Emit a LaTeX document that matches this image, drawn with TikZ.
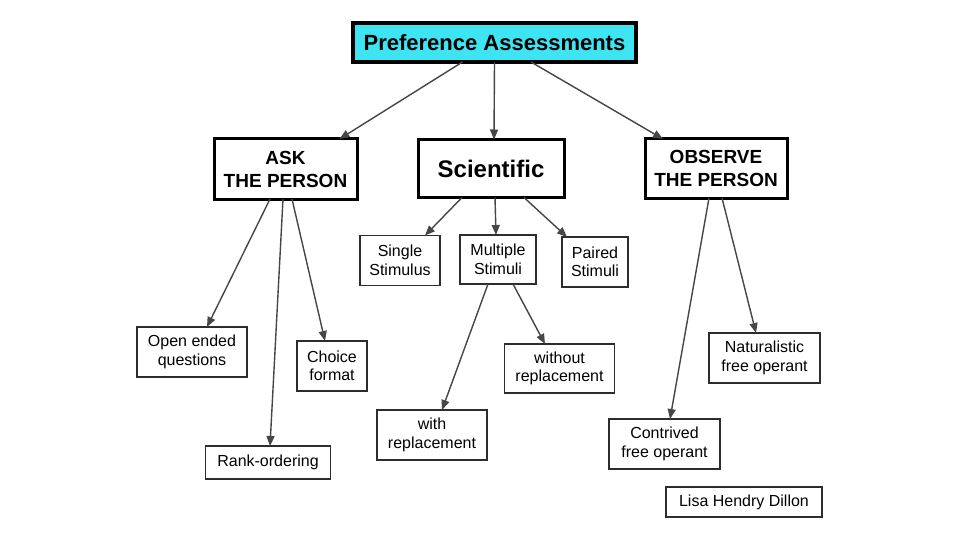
\documentclass[tikz,border=0pt]{standalone}
\usepackage{fontspec}
\setmainfont{Liberation Sans}
\usetikzlibrary{arrows.meta}
\definecolor{boxcyan}{RGB}{62,228,242}
\definecolor{linegray}{RGB}{70,70,70}
\definecolor{bordergray}{RGB}{45,45,45}
\begin{document}
\begin{tikzpicture}[x=1pt,y=-1pt,
  every node/.style={inner sep=0pt,outer sep=0pt,align=center},
  mainbox/.style={draw=black,line width=3.5pt,fill=boxcyan,font=\fontsize{22}{26}\selectfont\bfseries},
  catbox/.style={draw=black,line width=3pt,fill=white,font=\fontsize{19}{23}\selectfont\bfseries},
  leafbox/.style={draw=bordergray,line width=1.5pt,fill=white,font=\fontsize{16}{18.5}\selectfont},
  arr/.style={draw=linegray,line width=1.4pt,-{Triangle[length=10pt,width=8pt]}}]
\useasboundingbox (0,0) rectangle (960,540);
\fill[white] (0,0) rectangle (960,540);

\node[mainbox,minimum width=283pt,minimum height=39pt] (top) at (494.5,42.5) {Preference Assessments};

\node[catbox,minimum width=143pt,minimum height=60pt] (ask) at (285.5,169) {ASK\\THE PERSON};
\node[catbox,minimum width=146pt,minimum height=58pt,font=\fontsize{24}{28}\selectfont\bfseries] (sci) at (491,168.5) {Scientific};
\node[catbox,minimum width=142pt,minimum height=59pt] (obs) at (716,168.5) {OBSERVE\\THE PERSON};

\node[leafbox,minimum width=80pt,minimum height=50pt] (single) at (400,260.5) {Single\\Stimulus};
\node[leafbox,minimum width=76pt,minimum height=49pt] (multiple) at (498,259.5) {Multiple\\Stimuli};
\node[leafbox,minimum width=66pt,minimum height=50pt] (paired) at (595,262) {Paired\\Stimuli};

\node[leafbox,minimum width=110pt,minimum height=50pt] (open) at (192,352) {Open ended\\questions};
\node[leafbox,minimum width=70pt,minimum height=50pt] (choice) at (332,366) {Choice\\format};
\node[leafbox,minimum width=125pt,minimum height=33pt] (rank) at (268,462.5) {Rank-ordering};

\node[leafbox,minimum width=110pt,minimum height=49pt] (without) at (559.5,368.5) {without\\replacement};
\node[leafbox,minimum width=110pt,minimum height=50pt] (with) at (432,435) {with\\replacement};

\node[leafbox,minimum width=111pt,minimum height=50pt] (natural) at (764.5,358) {Naturalistic\\free operant};
\node[leafbox,minimum width=111pt,minimum height=50pt] (contrived) at (664.5,444) {Contrived\\free operant};

\node[leafbox,minimum width=156pt,minimum height=30pt] (lisa) at (744,502) {Lisa Hendry Dillon};

\draw[arr] ([xshift=-32pt]top.south) -- ([xshift=54pt]ask.north);
\draw[arr] ([xshift=0pt]top.south) -- ([xshift=3pt]sci.north);
\draw[arr] ([xshift=36.5pt]top.south) -- ([xshift=-53pt]obs.north);

\draw[arr] ([xshift=-15.5pt]ask.south) -- ([xshift=15pt]open.north);
\draw[arr] ([xshift=-2.5pt]ask.south) -- ([xshift=2pt]rank.north);
\draw[arr] ([xshift=6.5pt]ask.south) -- ([xshift=-7pt]choice.north);

\draw[arr] ([xshift=-29pt]sci.south) -- ([xshift=25pt]single.north);
\draw[arr] ([xshift=4pt]sci.south) -- ([xshift=-2pt]multiple.north);
\draw[arr] ([xshift=33pt]sci.south) -- ([xshift=-28pt]paired.north);

\draw[arr] ([xshift=-10pt]multiple.south) -- ([xshift=10pt]with.north);
\draw[arr] ([xshift=15pt]multiple.south) -- ([xshift=-14.5pt]without.north);

\draw[arr] ([xshift=-7pt]obs.south) -- ([xshift=5.5pt]contrived.north);
\draw[arr] ([xshift=6pt]obs.south) -- ([xshift=-8.5pt]natural.north);
\end{tikzpicture}
\end{document}
